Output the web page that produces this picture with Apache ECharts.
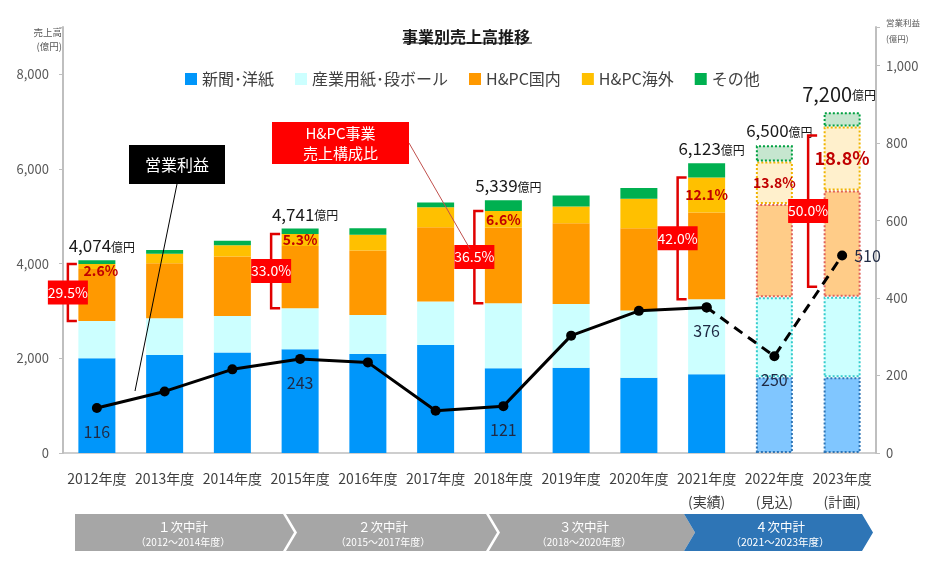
<!DOCTYPE html>
<html><head><meta charset="utf-8">
<script src="https://cdn.jsdelivr.net/npm/echarts@6/dist/echarts.min.js"></script>
<style>html,body{margin:0;padding:0;background:#fff}#c{width:932px;height:562px}</style>
</head><body><div id="c"></div>
<script>
// ---- data ----
const categories = ['2012年度','2013年度','2014年度','2015年度','2016年度','2017年度','2018年度','2019年度','2020年度','2021年度','2022年度','2023年度'];
const subLabels = ['','','','','','','','','','(実績)','(見込)','(計画)'];
const newsprint   = [2000, 2072, 2121, 2190, 2093, 2283, 1790, 1800, 1590, 1664, 1600, 1600];
const industrial  = [ 790,  776,  775,  870,  824,  916, 1375, 1350, 1418, 1585, 1690, 1700];
const hpcDomestic = [1096, 1162, 1254, 1314, 1360, 1572, 1597, 1706, 1742, 1831, 1973, 2246];
const hpcOverseas = [ 106,  197,  241,  251,  332,  423,  352,  351,  620,  741,  897, 1354];
const others      = [  82,   80,   91,  116,  141,   97,  225,  233,  226,  302,  340,  300];
const totals      = [4074, null, null, 4741, null, null, 5339, null, null, 6123, 6500, 7200];
const hpcShare    = [29.5, null, null, 33.0, null, null, 36.5, null, null, 42.0, null, 50.0];
const overseasShare = [2.6, null, null, 5.3, null, null, 6.6, null, null, 12.1, 13.8, 18.8];
const profit      = [116, 159, 216, 243, 234, 109, 121, 303, 367, 376, 250, 510];
const profitLabeled = [true,false,false,true,false,false,true,false,false,true,true,true];
const leftTicks = [0, 2000, 4000, 6000, 8000];
const rightTicks = [0, 200, 400, 600, 800, 1000];
const plans = [
  {name:'１次中計', range:'（2012～2014年度）'},
  {name:'２次中計', range:'（2015～2017年度）'},
  {name:'３次中計', range:'（2018～2020年度）'},
  {name:'４次中計', range:'（2021～2023年度）'}
];
const seriesNames = ['新聞･洋紙','産業用紙･段ボール','H&PC国内','H&PC海外','その他'];

// ---- styles ----
const FONT = "'Noto Sans CJK JP','Noto Sans',sans-serif";
const PROJ_START = 10;
const solidColors = ['#0096FA','#CCFFFF','#FF9900','#FFC000','#00B050'];
const lightColors = ['#80C6FF','#CCFFFF','#FFCC88','#FFF0CC','#C6E6CF'];
const borderColors = ['#2E75B6','#33CCCC','#E0605A','#F0B400','#00A040'];

function barData(values, k) {
  return values.map((v, i) => i >= PROJ_START
    ? {value: v, itemStyle: {color: lightColors[k], borderColor: borderColors[k], borderType: 'dotted', borderWidth: 2}}
    : {value: v, itemStyle: {color: solidColors[k]}});
}
const valueSets = [newsprint, industrial, hpcDomestic, hpcOverseas, others];
const barSeries = valueSets.map((vals, k) => {
  const data = barData(vals, k);
  if (k === 3) {
    data.forEach((d, i) => {
      if (overseasShare[i] != null) {
        d.label = {show: true, position: 'inside', formatter: overseasShare[i].toFixed(1) + '%',
          color: '#C00000', fontWeight: 'bold', fontSize: i === 11 ? 18 : 14, fontFamily: FONT,
          offset: i < 3 ? [4, 4] : [0, 0]};
      }
    });
  }
  if (k === 4) {
    data.forEach((d, i) => {
      if (totals[i] != null) {
        const big = i === 11;
        d.label = {show: true, position: 'top', distance: big ? 8 : 6, offset: big ? [-3, 0] : [5, 0],
          formatter: '{n|' + totals[i].toLocaleString('en-US') + '}{u|億円}',
          rich: {n: {fontSize: big ? 20 : 17, color: '#1a1a1a', fontFamily: FONT},
                 u: {fontSize: 12, color: '#1a1a1a', fontFamily: FONT, padding: [3,0,0,0]}}};
      }
    });
  }
  return {name: seriesNames[k], type: 'bar', stack: 'sales', barWidth: 37,
    itemStyle: {color: solidColors[k]}, data: data, z: 2};
});

function profitData(from, to) {
  return profit.map((v, i) => {
    if (i < from || i > to) return null;
    const d = {value: v};
    if (profitLabeled[i] && !(from === 9 && i === 9)) {
      d.label = {show: true, position: i === 11 ? 'right' : 'bottom', distance: i === 11 ? 7 : 11,
        color: '#1F2A44', fontSize: 16, fontFamily: FONT, formatter: String(v)};
    }
    return d;
  });
}

const chart = echarts.init(document.getElementById('c'));
const option = {
  animation: false,
  textStyle: {fontFamily: FONT},
  title: {text: '事業別売上高推移', left: 'center', top: 24,
    textStyle: {fontSize: 16, fontWeight: 'bold', color: '#1a1a1a', fontFamily: FONT}},
  legend: {data: seriesNames, left: 180, top: 66, icon: 'rect', itemWidth: 12, itemHeight: 12, itemGap: 21,
    textStyle: {fontSize: 16, color: '#404040', fontFamily: FONT}},
  grid: {left: 63, right: 56, top: 27, bottom: 109, containLabel: false},
  xAxis: {type: 'category', data: categories,
    axisLine: {lineStyle: {color: '#BFBFBF', width: 1.5}}, axisTick: {show: false},
    axisLabel: {margin: 14, interval: 0,
      formatter: (v, i) => subLabels[i] ? '{a|' + v + '}\n{a|' + subLabels[i] + '}' : '{a|' + v + '}',
      rich: {a: {fontSize: 14, lineHeight: 23, color: '#404040', fontFamily: FONT}}}},
  yAxis: [
    {type: 'value', min: 0, max: 9000, interval: 2000, splitLine: {show: false},
      axisLine: {show: true, lineStyle: {color: '#BFBFBF', width: 2}},
      axisTick: {show: true, length: 4, lineStyle: {color: '#BFBFBF'}},
      axisLabel: {margin: 14, fontSize: 13, color: '#595959', fontFamily: FONT,
        formatter: v => leftTicks.includes(v) ? v.toLocaleString('en-US') : ''}},
    {type: 'value', min: 0, max: 1100, interval: 200, splitLine: {show: false},
      axisLine: {show: true, lineStyle: {color: '#BFBFBF', width: 2}},
      axisTick: {show: true, length: 4, lineStyle: {color: '#BFBFBF'}},
      axisLabel: {margin: 10, fontSize: 13, color: '#595959', fontFamily: FONT,
        formatter: v => rightTicks.includes(v) ? v.toLocaleString('en-US') : ''}}
  ],
  series: barSeries.concat([
    {name: '営業利益', type: 'line', yAxisIndex: 1, data: profitData(0, 9), z: 5,
      lineStyle: {color: '#000', width: 3}, itemStyle: {color: '#000'}, symbol: 'circle', symbolSize: 10},
    {name: '営業利益(計画)', type: 'line', yAxisIndex: 1, data: profitData(9, 11), z: 5,
      lineStyle: {color: '#000', width: 3, type: [10, 7]}, itemStyle: {color: '#000'}, symbol: 'circle', symbolSize: 10}
  ])
};
chart.setOption(option);

// ---- annotations ----
function T(x, y, text, size, color, align, weight) {
  return {type: 'text', x: x, y: y, z: 20, style: {text: text, fill: color,
    font: (weight || 'normal') + ' ' + size + 'px ' + FONT,
    align: align || 'center', verticalAlign: 'middle', textAlign: align || 'center', textVerticalAlign: 'middle'}};
}
const g = [];
g.push({type: 'line', z: 20, shape: {x1: 403, y1: 43, x2: 532, y2: 43}, style: {stroke: '#1a1a1a', lineWidth: 1}});
g.push(T(62, 32, '売上高', 9.5, '#595959', 'right'));
g.push(T(62, 46, '(億円)', 9.5, '#595959', 'right'));
g.push(T(886, 23, '営業利益', 8.5, '#595959', 'left'));
g.push(T(886, 39, '(億円)', 8.5, '#595959', 'left'));
g.push({type: 'line', z: 18, shape: {x1: 177, y1: 184, x2: 135, y2: 391}, style: {stroke: '#000', lineWidth: 1}});
g.push({type: 'rect', z: 19, shape: {x: 129, y: 145, width: 96, height: 39}, style: {fill: '#000'}});
g.push(T(177, 165, '営業利益', 16, '#fff'));
g.push({type: 'line', z: 18, shape: {x1: 409, y1: 143, x2: 470, y2: 249}, style: {stroke: '#C0504D', lineWidth: 1}});
g.push({type: 'rect', z: 19, shape: {x: 272, y: 122, width: 137, height: 42}, style: {fill: '#FF0000'}});
g.push(T(340.5, 133, 'H&PC事業', 15, '#fff'));
g.push(T(340.5, 153, '売上構成比', 15, '#fff'));
hpcShare.forEach((s, i) => {
  if (s == null) return;
  const base = newsprint[i] + industrial[i];
  const top = base + hpcDomestic[i] + hpcOverseas[i];
  const pb = chart.convertToPixel({xAxisIndex: 0, yAxisIndex: 0}, [i, base]);
  const pt = chart.convertToPixel({xAxisIndex: 0, yAxisIndex: 0}, [i, top]);
  const last = i === categories.length - 1;
  const bx = pb[0] - (last ? 34 : 29);
  const yt = pt[1] + (last ? 9 : 0), yb = pb[1] - (last ? 10 : 0);
  g.push({type: 'polyline', z: 15, shape: {points: [[bx + 9, yt], [bx, yt], [bx, yb], [bx + 9, yb]]},
    style: {stroke: '#E00000', lineWidth: 2.5, fill: null}});
  const ym = (yt + yb) / 2;
  g.push({type: 'rect', z: 16, shape: {x: bx - 20, y: ym - 12, width: 40, height: 24}, style: {fill: '#FF0000'}});
  g.push(T(bx, ym, s.toFixed(1) + '%', 14, '#fff'));
});
const chev = [
  {pts: [[75,514],[283,514],[294,532.5],[283,551],[75,551]], fill: '#A6A6A6', cx: 183},
  {pts: [[286,514],[486,514],[497,532.5],[486,551],[286,551],[297,532.5]], fill: '#A6A6A6', cx: 383},
  {pts: [[489,514],[684,514],[695,532.5],[684,551],[489,551],[500,532.5]], fill: '#A6A6A6', cx: 584},
  {pts: [[684,514],[862,514],[873,532.5],[862,551],[684,551],[695,532.5]], fill: '#2E75B6', cx: 780}
];
chev.forEach((c, k) => {
  g.push({type: 'polygon', z: 10, shape: {points: c.pts}, style: {fill: c.fill}});
  g.push(T(c.cx, 527, plans[k].name, 12.5, '#fff'));
  g.push(T(c.cx, 542, plans[k].range, k === 3 ? 10.5 : 10, '#fff'));
});
chart.setOption({graphic: {elements: g}});
</script>
</body></html>
